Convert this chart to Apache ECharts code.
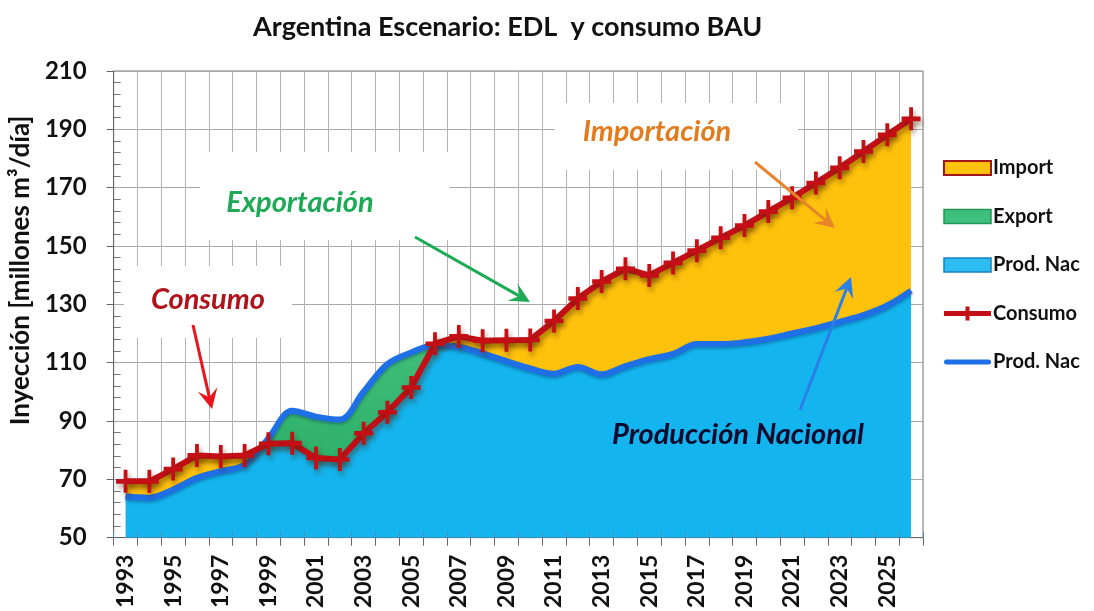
<!DOCTYPE html>
<html>
<head>
<meta charset="utf-8">
<script src="https://cdn.jsdelivr.net/npm/echarts@6/dist/echarts.min.js"></script>
<style>
  html, body { margin: 0; padding: 0; background: #ffffff; }
  #chart { width: 1094px; height: 611px; }
</style>
</head>
<body>
<div id="chart"></div>
<script>
// Years on the category axis
const years = ['1993','1994','1995','1996','1997','1998','1999','2000','2001','2002',
               '2003','2004','2005','2006','2007','2008','2009','2010','2011','2012',
               '2013','2014','2015','2016','2017','2018','2019','2020','2021','2022',
               '2023','2024','2025','2026'];

// Gas consumption (millones m3/día)
const consumo = [69.3, 69.3, 73.5, 78.2, 77.8, 78.2, 82.2, 82.4, 77.3, 76.8,
                 85.8, 93.0, 101.5, 116.5, 119.0, 117.5, 117.7, 117.8, 124.3, 132.0,
                 137.8, 142.2, 139.9, 144.2, 148.4, 152.8, 157.0, 161.8, 166.5, 171.6,
                 176.8, 182.4, 188.1, 193.6];

// National production (millones m3/día)
const prodNac = [64.2, 63.7, 66.5, 70.5, 72.8, 75.0, 84.0, 93.5, 91.5, 90.5,
                 100.0, 109.5, 113.5, 116.0, 115.5, 113.2, 110.5, 108.0, 106.2, 108.5,
                 106.0, 108.8, 111.2, 113.0, 116.4, 116.4, 117.0, 118.2, 120.0, 121.8,
                 124.0, 126.3, 129.6, 134.7];

// Y axis scale
const yMin = 50, yMax = 210, yStep = 20;

// Legend labels (two series share the "Prod. Nac" caption)
const legendLabels = {
  Import: 'Import',
  Export: 'Export',
  ProdNacArea: 'Prod. Nac',
  Consumo: 'Consumo',
  ProdNacLine: 'Prod. Nac'
};

// Stacked bands: domestic supply covered, imports and exports
const covered   = consumo.map((c, i) => Math.min(c, prodNac[i]));
const importGap = consumo.map((c, i) => Math.max(c - prodNac[i], 0));
const exportGap = consumo.map((c, i) => Math.max(prodNac[i] - c, 0));

const FONT = 'Lato, "Open Sans", sans-serif';
const RED = '#C40F17';
const BLUE = '#1F6FE6';
const CYAN = '#14B4EF';
const YELLOW = '#FFC20C';
const GREEN = '#2EB46B';

const crossSymbol = 'path://M4,0 L6,0 L6,4 L10,4 L10,6 L6,6 L6,10 L4,10 L4,6 L0,6 L0,4 L4,4 Z';
// Legend glyphs for the two line series (47 x 14 box)
const crossLineIcon = 'path://M0,4.5 L21.5,4.5 L21.5,0 L25.5,0 L25.5,4.5 L47,4.5 L47,9.5 L25.5,9.5 L25.5,14 L21.5,14 L21.5,9.5 L0,9.5 Z';
const plainLineIcon = 'path://M0,0 M47,14 M2.5,4.5 L44.5,4.5 A2.5,2.5 0 0 1 44.5,9.5 L2.5,9.5 A2.5,2.5 0 0 1 2.5,4.5 Z';

// Arrow: shaft plus notched head
function arrow(x0, y0, x1, y1, color, width, head) {
  const a = Math.atan2(y1 - y0, x1 - x0);
  const ca = Math.cos(a), sa = Math.sin(a);
  const hw = head * 0.5;
  const bx = x1 - head * ca, by = y1 - head * sa;
  const nx = x1 - head * 0.6 * ca, ny = y1 - head * 0.6 * sa;
  const px = -sa, py = ca;
  return [
    { type: 'line', z: 100, shape: { x1: x0, y1: y0, x2: nx, y2: ny },
      style: { stroke: color, lineWidth: width } },
    { type: 'polygon', z: 100,
      shape: { points: [[x1, y1], [bx + px * hw, by + py * hw], [nx, ny], [bx - px * hw, by - py * hw]] },
      style: { fill: color } }
  ];
}

function note(text, cx, cy, color, size) {
  return { type: 'text', z: 100, x: cx, y: cy,
    style: { text: text, fill: color, font: 'italic bold ' + size + 'px ' + FONT,
             textAlign: 'center', textVerticalAlign: 'middle' } };
}

function whiteBox(x, y, w, h) {
  return { type: 'rect', z: 1, silent: true, shape: { x: x, y: y, width: w, height: h },
           style: { fill: '#ffffff' } };
}

const lineShadow = { shadowColor: 'rgba(70,40,0,0.45)', shadowBlur: 5, shadowOffsetX: 2, shadowOffsetY: 4 };

const chart = echarts.init(document.getElementById('chart'));

const option = {
  animation: false,
  backgroundColor: '#ffffff',
  textStyle: { fontFamily: FONT },
  title: {
    text: 'Argentina Escenario: EDL  y consumo BAU',
    left: 248, top: 9,
    textStyle: { fontFamily: FONT, fontWeight: 'bold', fontSize: 27, color: '#111' }
  },
  grid: { left: 112, top: 71, width: 811, height: 469, show: true, borderColor: '#777', borderWidth: 1 },
  legend: {
    orient: 'vertical', left: 938, top: 151,
    itemWidth: 47, itemHeight: 14, itemGap: 24.5,
    formatter: name => legendLabels[name],
    textStyle: { fontFamily: FONT, fontWeight: 'bold', fontSize: 20, color: '#111', lineHeight: 24, padding: [0, 0, 0, -3] },
    selectedMode: false,
    data: [
      { name: 'Import', icon: 'rect', itemStyle: { color: YELLOW, borderColor: '#A5161A', borderWidth: 2 } },
      { name: 'Export', icon: 'rect', itemStyle: { color: '#3CC07C', borderColor: '#239556', borderWidth: 1.5 } },
      { name: 'ProdNacArea', icon: 'rect', itemStyle: { color: '#2DBDF0', borderColor: '#1383C4', borderWidth: 1.5 } },
      { name: 'Consumo', icon: crossLineIcon, itemStyle: { color: RED, borderWidth: 0 }, lineStyle: { width: 0 } },
      { name: 'ProdNacLine', icon: plainLineIcon, itemStyle: { color: BLUE, borderWidth: 0 }, lineStyle: { width: 0 } }
    ]
  },
  xAxis: [
    {
      type: 'category', data: years, boundaryGap: true,
      axisLine: { lineStyle: { color: '#666', width: 1 } },
      axisTick: { show: true, interval: 0, length: 8, lineStyle: { color: '#666' } },
      axisLabel: { interval: 1, rotate: 90, margin: 17, fontFamily: FONT, fontWeight: 'bold', fontSize: 23, color: '#111' },
      splitLine: { show: true, interval: 0, lineStyle: { color: '#b4b4b4', width: 1 } }
    },
    {
      type: 'category', data: years, boundaryGap: true, position: 'bottom', z: 6,
      axisLine: { show: false },
      axisTick: { show: true, inside: true, interval: 0, length: 6, lineStyle: { color: '#4a8fb5' } },
      axisLabel: { show: false },
      splitLine: { show: false }
    }
  ],
  yAxis: [
    {
      type: 'value', min: yMin, max: yMax, interval: yStep,
      name: 'Inyección [millones m³/día]', nameLocation: 'middle', nameGap: 78,
      nameTextStyle: { fontFamily: FONT, fontWeight: 'bold', fontSize: 26, color: '#111', padding: [0, 0, 0, 68] },
      axisLine: { show: true, lineStyle: { color: '#666' } },
      axisTick: { show: true, length: 7, lineStyle: { color: '#666' } },
      axisLabel: { margin: 27, fontFamily: FONT, fontWeight: 'bold', fontSize: 24, color: '#111' },
      splitLine: { show: true, lineStyle: { color: '#a8a8a8', width: 1 } }
    },
    {
      type: 'value', min: yMin, max: yMax, interval: yStep, position: 'left',
      axisLine: { show: false },
      axisTick: { show: false, inside: true },
      minorTick: { show: true, splitNumber: 5, length: 7, lineStyle: { color: '#777' } },
      axisLabel: { show: false },
      splitLine: { show: false }
    }
  ],
  series: [
    {
      name: 'ProdNacArea', type: 'line', stack: 'balance', data: covered,
      smooth: 0.35, symbol: 'none', z: 2,
      lineStyle: { width: 0 },
      itemStyle: { color: CYAN },
      areaStyle: { opacity: 1, color: CYAN }
    },
    {
      name: 'Import', type: 'line', stack: 'balance', data: importGap,
      smooth: 0.35, symbol: 'none', z: 2,
      lineStyle: { width: 0 },
      itemStyle: { color: YELLOW },
      areaStyle: { opacity: 1, color: YELLOW }
    },
    {
      name: 'Export', type: 'line', stack: 'balance', data: exportGap,
      smooth: 0.35, symbol: 'none', z: 2,
      lineStyle: { width: 0 },
      itemStyle: { color: GREEN },
      areaStyle: { opacity: 1, color: new echarts.graphic.LinearGradient(0, 0, 0, 1, [
        { offset: 0, color: '#63D89A' }, { offset: 1, color: '#2BAE66' }]) }
    },
    {
      name: 'ProdNacLine', type: 'line', data: prodNac,
      smooth: 0.35, symbol: 'none', z: 4,
      lineStyle: { color: BLUE, width: 6, shadowColor: 'rgba(0,40,90,0.35)', shadowBlur: 3, shadowOffsetY: 2 },
      itemStyle: { color: BLUE }
    },
    {
      name: 'Consumo', type: 'line', data: consumo,
      smooth: false, symbol: crossSymbol, symbolSize: [19, 23], showAllSymbol: true, z: 5,
      lineStyle: Object.assign({ color: RED, width: 6 }, lineShadow),
      itemStyle: Object.assign({ color: RED }, lineShadow)
    }
  ],
  graphic: [].concat(
    [
      whiteBox(124, 266, 168, 72),
      whiteBox(200, 152, 250, 88),
      whiteBox(555, 103, 243, 67)
    ],
    [
      note('Consumo', 208, 300, '#B0111B', 29),
      note('Exportación', 300, 203, '#1DA955', 29),
      note('Importación', 657, 132, '#E27B1E', 29),
      note('Producción Nacional', 738, 435, '#0B0B2E', 29)
    ],
    arrow(193, 325, 212, 409, '#E8161C', 3, 20),
    arrow(415, 237, 530, 302, '#1DAA55', 3, 20),
    arrow(755, 162, 835, 228, '#E8842A', 3, 20),
    arrow(800, 410, 851, 277, '#2B7FE8', 3, 20)
  )
};

chart.setOption(option);
</script>
</body>
</html>
